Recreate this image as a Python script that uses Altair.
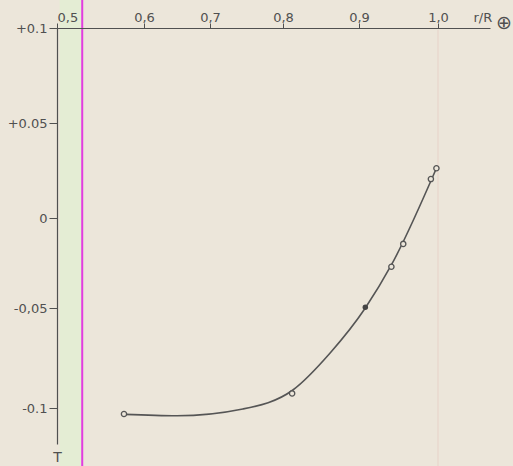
import altair as alt
import pandas as pd

# ---- data ----
# smooth curve (r/R_earth, value)
curve_r = [0.578, 0.650, 0.745, 0.813, 0.862, 0.908, 0.941, 0.998]
curve_v = [-0.1032, -0.1039, -0.1005, -0.0910, -0.0725, -0.0500, -0.0261, 0.0262]

# open circles
open_r = [0.577, 0.812, 0.941, 0.956, 0.991, 0.998]
open_v = [-0.103, -0.0927, -0.0271, -0.0144, 0.0205, 0.0262]

# filled circle
filled_r = [0.908]
filled_v = [-0.0496]

# axis ticks and labels
x_ticks = [0.5, 0.6, 0.7, 0.8, 0.9, 1.0]
x_tick_labels = ["0,5", "0,6", "0,7", "0,8", "0,9", "1,0"]
y_ticks = [-0.1, -0.05, 0, 0.05, 0.1]
y_tick_labels = ["-0.1", "-0,05", "0\u2007\u2007", "+0.05", "+0.1"]

# highlighted band and marker lines
band_r = [0.5030]
band_r2 = [0.529]
magenta_r = [0.529]
faint_r = [1.0]

FONT = "DejaVu Sans"
INK = "#505050"

curve_df = pd.DataFrame({"r": curve_r, "v": curve_v, "o": list(range(len(curve_r)))})
open_df = pd.DataFrame({"r": open_r, "v": open_v})
filled_df = pd.DataFrame({"r": filled_r, "v": filled_v})
band_df = pd.DataFrame({"r": band_r, "r2": band_r2})
mag_df = pd.DataFrame({"r": magenta_r})
faint_df = pd.DataFrame({"r": faint_r})

xs = alt.Scale(domain=[0.5, 0.6, 0.7, 0.8, 0.9, 1.0, 1.066],
               range=[0, 87, 153, 226, 302, 381, 433], nice=False, zero=False)
ys = alt.Scale(domain=[-0.118, -0.1, -0.05, 0, 0.05, 0.1],
               range=[416, 380, 280, 190, 95, 0], nice=False, zero=False)

def lab_expr(vals, labs):
    v = "[" + ",".join(repr(float(a)) for a in vals) + "]"
    l = "[" + ",".join("'" + s + "'" for s in labs) + "]"
    return f"{l}[indexof({v}, datum.value)]"

x_axis = alt.Axis(orient="top", values=x_ticks, labelExpr=lab_expr(x_ticks, x_tick_labels),
                  grid=False, tickSize=5, tickColor=INK, domainColor=INK, domainWidth=1.2,
                  labelFont=FONT, labelFontSize=13, labelColor=INK, labelPadding=2,
                  labelBaseline="alphabetic", labelAngle=0, zindex=2,
                  title="r/R", titleFont=FONT, titleFontSize=13, titleFontWeight="normal",
                  titleColor=INK, titleX=416, titleY=-7, titleAlign="left",
                  titleBaseline="alphabetic", titleAngle=0)
y_axis = alt.Axis(orient="left", values=y_ticks, labelExpr=lab_expr(y_ticks, y_tick_labels),
                  grid=False, tickSize=8, tickColor=INK, domainColor=INK, domainWidth=1.2,
                  labelFont=FONT, labelFontSize=13, labelColor=INK, labelPadding=2, zindex=2,
                  title="T", titleFont=FONT, titleFontSize=14, titleFontWeight="normal",
                  titleColor=INK, titleX=0, titleY=433, titleAlign="center",
                  titleBaseline="alphabetic", titleAngle=0)

band = alt.Chart(band_df).mark_rect(color="#e3edd3", opacity=0.9).encode(
    x=alt.X("r:Q", scale=xs, axis=x_axis), x2="r2:Q",
    y=alt.value(-28), y2=alt.value(438))

faint = alt.Chart(faint_df).mark_rule(color="#e6c9c0", strokeWidth=1, opacity=0.7).encode(
    x=alt.X("r:Q", scale=xs), y=alt.value(2), y2=alt.value(438))

magenta = alt.Chart(mag_df).mark_rule(color="#e23de0", strokeWidth=2).encode(
    x=alt.X("r:Q", scale=xs), y=alt.value(-28), y2=alt.value(438))

line = alt.Chart(curve_df).mark_line(color="#555555", strokeWidth=1.6, interpolate="monotone").encode(
    x=alt.X("r:Q", scale=xs),
    y=alt.Y("v:Q", scale=ys, axis=y_axis),
    order="o:Q")

opens = alt.Chart(open_df).mark_point(shape="circle", size=28, filled=True, fill="#ece6da",
                                      stroke="#555555", strokeWidth=1.3, opacity=1).encode(
    x=alt.X("r:Q", scale=xs), y=alt.Y("v:Q", scale=ys))

filled = alt.Chart(filled_df).mark_point(shape="circle", size=30, filled=True, color="#444444",
                                         opacity=1).encode(
    x=alt.X("r:Q", scale=xs), y=alt.Y("v:Q", scale=ys))

oplus = alt.Chart(pd.DataFrame({"t": ["\u2295"]})).mark_text(
    font="DejaVu Sans", fontSize=19, color=INK, align="center", baseline="middle").encode(
    text="t:N", x=alt.value(447), y=alt.value(-5))

chart = alt.layer(band, faint, magenta, line, opens, filled, oplus).properties(
    width=433, height=416,
    autosize=alt.AutoSizeParams(type="none"),
    padding={"left": 57, "top": 28, "right": 23, "bottom": 22},
    background="#ece6da",
).configure_view(stroke=None)

chart.save("out.html", embed_options={"renderer": "svg", "actions": False})
